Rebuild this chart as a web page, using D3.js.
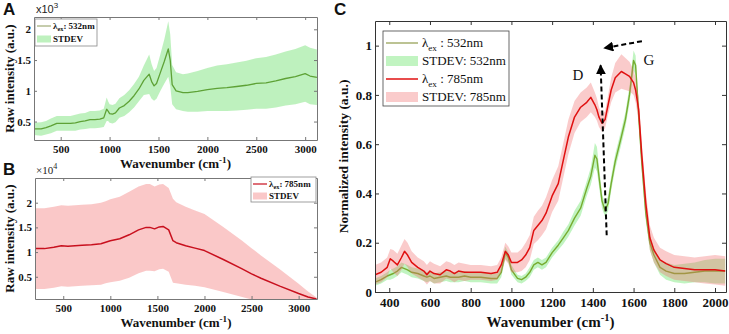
<!DOCTYPE html>
<html>
<head>
<meta charset="utf-8">
<script src="https://cdn.jsdelivr.net/npm/d3@7"></script>
<style>
body { margin: 0; background: #fff; }
text { font-family: "Liberation Serif", "Times New Roman", serif; }
</style>
</head>
<body>
<script>
const WIDTH = 729;
const HEIGHT = 334;

// panel A: 532 nm raw spectrum (x10^3)
var waveA = [227,300,350,400,460,500,550,600,650,700,750,800,850,900,940,970,985,1000,1030,1060,
  1100,1150,1200,1250,1300,1350,1405,1430,1455,1480,1520,1560,1600,1620,1640,1680,1750,1800,1900,2000,
  2100,2200,2300,2400,2500,2600,2700,2800,2900,3000,3050,3120];
var meanA = [0.38,0.38,0.40,0.43,0.47,0.47,0.47,0.47,0.48,0.50,0.51,0.53,0.53,0.54,0.56,0.70,0.67,0.63,0.62,0.64,
  0.72,0.76,0.83,0.92,1.03,1.17,1.27,1.15,1.08,1.12,1.30,1.48,1.68,1.50,1.10,1.00,0.97,0.97,0.99,1.02,
  1.04,1.05,1.07,1.09,1.12,1.13,1.16,1.20,1.23,1.28,1.24,1.22];
var sdA = [0.10,0.11,0.11,0.12,0.12,0.12,0.12,0.12,0.13,0.13,0.13,0.14,0.14,0.14,0.15,0.19,0.16,0.15,0.15,0.15,
  0.16,0.17,0.18,0.19,0.20,0.24,0.32,0.28,0.24,0.25,0.30,0.36,0.45,0.42,0.32,0.30,0.30,0.31,0.33,0.35,
  0.37,0.38,0.39,0.40,0.41,0.42,0.43,0.44,0.45,0.46,0.46,0.45];
var xTicksA = [500,1000,1500,2000,2500,3000];
var yTicksA = [0.5,1,1.5,2];

// panel B: 785 nm raw spectrum (x10^4)
var waveB = [200,300,400,480,550,700,800,900,950,1000,1100,1200,1300,1380,1420,1470,1520,1560,1620,1665,
  1700,1800,1900,2000,2200,2400,2500,2600,2800,3000,3100,3190];
var meanB = [1.07,1.07,1.10,1.13,1.12,1.14,1.15,1.17,1.20,1.23,1.27,1.35,1.45,1.50,1.50,1.47,1.51,1.52,1.45,1.23,
  1.19,1.13,1.08,1.03,0.85,0.66,0.56,0.47,0.31,0.16,0.09,0.05];
var sdB = [0.82,0.82,0.82,0.82,0.82,0.82,0.82,0.83,0.83,0.84,0.85,0.87,0.88,0.88,0.88,0.86,0.86,0.86,0.85,0.85,
  0.82,0.79,0.76,0.74,0.66,0.57,0.52,0.46,0.34,0.20,0.11,0.03];
var xTicksB = [500,1000,1500,2000,2500,3000];
var yTicksB = [0.5,1,1.5,2];

// panel C: normalized spectra
var waveC = [330,360,390,405,420,440,460,475,490,510,
  540,570,585,600,620,650,680,700,720,740,
  770,800,850,900,930,950,970,985,1000,1030,
  1050,1070,1090,1110,1130,1150,1170,1200,1230,1255,
  1280,1310,1340,1370,1390,1410,1420,1430,1445,1460,
  1475,1490,1510,1540,1560,1580,1600,1610,1625,1640,
  1660,1680,1700,1730,1760,1800,1850,1900,1950,2000,2050];
var norm532 = [0.04,0.05,0.065,0.07,0.075,0.085,0.10,0.095,0.09,0.08,
  0.075,0.065,0.06,0.065,0.055,0.06,0.065,0.06,0.06,0.06,
  0.065,0.06,0.06,0.055,0.055,0.08,0.16,0.14,0.09,0.055,
  0.05,0.06,0.08,0.11,0.12,0.11,0.12,0.16,0.19,0.22,
  0.25,0.30,0.34,0.42,0.47,0.555,0.54,0.47,0.37,0.33,
  0.36,0.44,0.53,0.63,0.70,0.80,0.94,0.92,0.72,0.53,
  0.32,0.20,0.15,0.10,0.085,0.075,0.075,0.08,0.085,0.085,0.085];
var sd532 = [0.015,0.015,0.015,0.02,0.02,0.02,0.02,0.02,0.02,0.02,
  0.02,0.02,0.02,0.02,0.02,0.02,0.02,0.02,0.02,0.02,
  0.02,0.02,0.02,0.02,0.02,0.02,0.025,0.02,0.02,0.015,
  0.015,0.015,0.02,0.02,0.02,0.02,0.02,0.02,0.02,0.025,
  0.025,0.03,0.03,0.03,0.035,0.05,0.05,0.04,0.03,0.025,
  0.03,0.03,0.03,0.03,0.03,0.035,0.04,0.04,0.04,0.035,
  0.03,0.03,0.03,0.03,0.035,0.035,0.04,0.04,0.045,0.05,0.05];
var norm785 = [0.07,0.08,0.10,0.135,0.125,0.11,0.14,0.165,0.15,0.12,
  0.10,0.085,0.07,0.085,0.075,0.07,0.09,0.085,0.075,0.085,
  0.08,0.08,0.08,0.075,0.08,0.11,0.165,0.15,0.12,0.12,
  0.13,0.15,0.18,0.25,0.27,0.29,0.32,0.39,0.44,0.535,
  0.63,0.71,0.75,0.77,0.79,0.76,0.74,0.71,0.685,0.70,
  0.76,0.82,0.87,0.895,0.885,0.875,0.85,0.82,0.74,0.56,
  0.36,0.22,0.17,0.13,0.115,0.10,0.095,0.09,0.09,0.09,0.085];
var sd785 = [0.04,0.04,0.04,0.04,0.045,0.045,0.05,0.05,0.05,0.045,
  0.04,0.04,0.04,0.04,0.04,0.035,0.035,0.035,0.035,0.035,
  0.035,0.03,0.03,0.03,0.03,0.03,0.035,0.035,0.04,0.04,
  0.045,0.05,0.05,0.055,0.06,0.06,0.065,0.065,0.07,0.07,
  0.07,0.065,0.06,0.06,0.06,0.05,0.045,0.04,0.035,0.035,
  0.04,0.05,0.06,0.07,0.065,0.06,0.05,0.05,0.05,0.05,
  0.05,0.05,0.05,0.05,0.05,0.05,0.05,0.05,0.055,0.06,0.06];
var xTicksC = [400,600,800,1000,1200,1400,1600,1800,2000];
var yTicksC = [0,0.2,0.4,0.6,0.8,1];

// annotations in data units of panel C
var peakLabels = [{t: 'D', x: 1327, y: 0.86}, {t: 'G', x: 1676, y: 0.92}];
var arrows = [{x1: 1468, y1: 0.23, x2: 1438, y2: 0.92}, {x1: 1641, y1: 1.018, x2: 1456, y2: 0.99}];

var svg = d3.select('body').append('svg')
    .attr('width', WIDTH)
    .attr('height', HEIGHT);

var defs = svg.append('defs');
defs.append('marker')
    .attr('id', 'head')
    .attr('viewBox', '0 0 10 10')
    .attr('refX', 9).attr('refY', 5)
    .attr('markerWidth', 5).attr('markerHeight', 5)
    .attr('markerUnits', 'strokeWidth')
    .attr('orient', 'auto')
  .append('path')
    .attr('d', 'M0,0 L10,5 L0,10 z')
    .attr('fill', '#000');

var makePanel = function (p) {
    var x = d3.scaleLinear().domain(p.xDomain).range([p.left, p.right]);
    var y = d3.scaleLinear().domain(p.yDomain).range([p.bottom, p.top]);
    var g = svg.append('g');

    defs.append('clipPath').attr('id', p.id)
      .append('rect')
        .attr('x', p.left).attr('y', p.top)
        .attr('width', p.right - p.left).attr('height', p.bottom - p.top);

    var plot = g.append('g').attr('clip-path', 'url(#' + p.id + ')');

    p.series.forEach(function (s) {
        var pts = s.wave.map(function (w, i) { return {w: w, m: s.mean[i], s: s.sd[i]}; });
        var area = d3.area()
            .x(function (d) { return x(d.w); })
            .y0(function (d) { return y(d.m - d.s); })
            .y1(function (d) { return y(d.m + d.s); });
        var line = d3.line()
            .x(function (d) { return x(d.w); })
            .y(function (d) { return y(d.m); });
        plot.append('path')
            .attr('d', area(pts))
            .attr('fill', s.band)
            .attr('fill-opacity', s.bandOpacity)
            .attr('stroke', 'none');
        plot.append('path')
            .attr('d', line(pts))
            .attr('fill', 'none')
            .attr('stroke', s.color)
            .attr('stroke-width', s.width)
            .attr('stroke-linejoin', 'round');
    });

    var axes = [
        {a: d3.axisBottom(x).tickValues(p.xTicks).tickFormat(function (d) { return d; }), t: 'translate(0,' + p.bottom + ')', pad: p.xpad},
        {a: d3.axisTop(x).tickValues(p.xTicks).tickFormat(''), t: 'translate(0,' + p.top + ')', pad: 3},
        {a: d3.axisLeft(y).tickValues(p.yTicks).tickFormat(function (d) { return d; }), t: 'translate(' + p.left + ',0)', pad: p.ypad},
        {a: d3.axisRight(y).tickValues(p.yTicks).tickFormat(''), t: 'translate(' + p.right + ',0)', pad: 3}
    ];
    axes.forEach(function (ax) {
        var sel = g.append('g')
            .attr('transform', ax.t)
            .call(ax.a.tickSizeInner(-p.tick).tickSizeOuter(0).tickPadding(ax.pad));
        sel.select('.domain').attr('stroke', p.axisColor);
        sel.selectAll('.tick line').attr('stroke', p.axisColor);
        sel.selectAll('text')
            .attr('fill', '#111')
            .style('font-family', '"Liberation Serif", serif')
            .style('font-weight', 'bold')
            .style('font-size', p.tickFont + 'px');
    });

    // x label
    var xl = g.append('text')
        .attr('x', (p.left + p.right) / 2)
        .attr('y', p.xLabelY)
        .attr('text-anchor', 'middle')
        .style('font-weight', 'bold')
        .style('font-size', p.labelFont + 'px')
        .attr('fill', '#111');
    xl.append('tspan').text('Wavenumber (cm');
    xl.append('tspan').text('-1').attr('dy', -p.labelFont * 0.4).style('font-size', (p.labelFont * 0.7) + 'px');
    xl.append('tspan').text(')').attr('dy', p.labelFont * 0.4);

    g.append('text')
        .attr('transform', 'translate(' + p.yLabelX + ',' + ((p.top + p.bottom) / 2) + ') rotate(-90)')
        .attr('text-anchor', 'middle')
        .style('font-weight', 'bold')
        .style('font-size', p.yLabelFont + 'px')
        .attr('fill', '#111')
        .text(p.yLabel);

    return {x: x, y: y, g: g};
};

var addLegend = function (g, lg) {
    g.append('rect')
        .attr('x', lg.x).attr('y', lg.y)
        .attr('width', lg.w).attr('height', lg.h)
        .attr('fill', '#fff')
        .attr('stroke', lg.stroke)
        .attr('stroke-width', 0.8);
    lg.items.forEach(function (it, i) {
        var cy = lg.y + lg.first + i * lg.step;
        if (it.kind === 'line') {
            g.append('line')
                .attr('x1', lg.x + lg.sx0).attr('x2', lg.x + lg.sx1)
                .attr('y1', cy).attr('y2', cy)
                .attr('stroke', it.color).attr('stroke-width', it.width);
        } else {
            g.append('rect')
                .attr('x', lg.x + lg.sx0).attr('y', cy - lg.patch / 2)
                .attr('width', lg.sx1 - lg.sx0).attr('height', lg.patch)
                .attr('fill', it.color).attr('fill-opacity', it.opacity);
        }
        var t = g.append('text')
            .attr('x', lg.x + lg.tx)
            .attr('y', cy + lg.font * 0.33)
            .style('font-size', lg.font + 'px')
            .style('font-weight', lg.weight)
            .attr('fill', '#111');
        if (it.sub) {
            t.append('tspan').text('\u03bb');
            t.append('tspan').text('ex').attr('dy', lg.font * 0.28).style('font-size', (lg.font * 0.7) + 'px');
            t.append('tspan').text(it.label).attr('dy', -lg.font * 0.28);
        } else {
            t.text(it.label);
        }
    });
};

// ---- panel A ----
var pA = makePanel({
    id: 'clipA', left: 34, right: 317, top: 17, bottom: 140,
    xDomain: [227, 3121], yDomain: [0.2, 2.2],
    xTicks: xTicksA, yTicks: yTicksA, tick: 3, xpad: 5, ypad: 3,
    axisColor: '#777', tickFont: 11, labelFont: 13, yLabelFont: 13,
    xLabelY: 168, yLabelX: 14, yLabel: 'Raw intensity (a.u.)',
    series: [{wave: waveA, mean: meanA, sd: sdA, band: '#7ee47e', bandOpacity: 0.5, color: '#5ea236', width: 1.3}]
});
addLegend(pA.g, {
    x: 35, y: 19, w: 62, h: 27, first: 7, step: 13, sx0: 2, sx1: 16, tx: 18, patch: 7,
    font: 9, weight: 'bold', stroke: '#888',
    items: [{kind: 'line', color: '#8c9a5a', width: 1, sub: true, label: ': 532nm'},
            {kind: 'patch', color: '#7ee47e', opacity: 0.5, label: 'STDEV'}]
});
svg.append('text').attr('x', 36).attr('y', 13)
    .style('font-family', '"Liberation Sans", Arial, sans-serif').style('font-size', '11px').attr('fill', '#222')
    .text('x10').append('tspan').text('3').attr('dy', -5).style('font-size', '8px');

// ---- panel B ----
var pB = makePanel({
    id: 'clipB', left: 35, right: 317, top: 178, bottom: 299,
    xDomain: [200, 3195], yDomain: [0.05, 2.5],
    xTicks: xTicksB, yTicks: yTicksB, tick: 3, xpad: 5, ypad: 3,
    axisColor: '#777', tickFont: 11, labelFont: 13, yLabelFont: 13,
    xLabelY: 327, yLabelX: 14, yLabel: 'Raw intensity (a.u.)',
    series: [{wave: waveB, mean: meanB, sd: sdB, band: '#f48686', bandOpacity: 0.45, color: '#c8101e', width: 1.5}]
});
addLegend(pB.g, {
    x: 251, y: 177, w: 65, h: 25, first: 7, step: 12, sx0: 2, sx1: 16, tx: 18, patch: 7,
    font: 9, weight: 'bold', stroke: '#888',
    items: [{kind: 'line', color: '#c8101e', width: 1.2, sub: true, label: ': 785nm'},
            {kind: 'patch', color: '#f48686', opacity: 0.45, label: 'STDEV'}]
});
svg.append('text').attr('x', 36).attr('y', 174)
    .style('font-size', '11px').attr('fill', '#222')
    .text('\u00d710').append('tspan').text('4').attr('dy', -5).style('font-size', '8px');

// ---- panel C ----
var pC = makePanel({
    id: 'clipC', left: 375, right: 726, top: 21, bottom: 292,
    xDomain: [330, 2054], yDomain: [0, 1.1],
    xTicks: xTicksC, yTicks: yTicksC, tick: 4, xpad: 6, ypad: 3,
    axisColor: '#333', tickFont: 13, labelFont: 15, yLabelFont: 13.5,
    xLabelY: 327, yLabelX: 348, yLabel: 'Normalized intensity (a.u.)',
    series: [
        {wave: waveC, mean: norm532, sd: sd532, band: '#4ee04e', bandOpacity: 0.35, color: '#77ac30', width: 1.4},
        {wave: waveC, mean: norm785, sd: sd785, band: '#f06a6a', bandOpacity: 0.35, color: '#e01010', width: 1.5}
    ]
});
addLegend(pC.g, {
    x: 383, y: 31, w: 126, h: 75, first: 12, step: 18, sx0: 3, sx1: 35, tx: 39, patch: 10,
    font: 13, weight: 'normal', stroke: '#444',
    items: [{kind: 'line', color: '#8f9a4a', width: 1.2, sub: true, label: ' : 532nm'},
            {kind: 'patch', color: '#4ee04e', opacity: 0.35, label: 'STDEV: 532nm'},
            {kind: 'line', color: '#e01010', width: 1.5, sub: true, label: ' : 785nm'},
            {kind: 'patch', color: '#f06a6a', opacity: 0.35, label: 'STDEV: 785nm'}]
});

pC.g.selectAll('.peak')
    .data(peakLabels)
  .enter().append('text')
    .attr('x', function (d) { return pC.x(d.x); })
    .attr('y', function (d) { return pC.y(d.y); })
    .attr('text-anchor', 'middle')
    .style('font-size', '15px')
    .attr('fill', '#111')
    .text(function (d) { return d.t; });

pC.g.selectAll('.arrow')
    .data(arrows)
  .enter().append('line')
    .attr('x1', function (d) { return pC.x(d.x1); })
    .attr('y1', function (d) { return pC.y(d.y1); })
    .attr('x2', function (d) { return pC.x(d.x2); })
    .attr('y2', function (d) { return pC.y(d.y2); })
    .attr('stroke', '#000')
    .attr('stroke-width', 2)
    .attr('stroke-dasharray', '5,3')
    .attr('marker-end', 'url(#head)');

// panel letters
svg.selectAll('.letter')
    .data([{t: 'A', x: 3, y: 15}, {t: 'B', x: 3, y: 175}, {t: 'C', x: 334, y: 15}])
  .enter().append('text')
    .attr('x', function (d) { return d.x; })
    .attr('y', function (d) { return d.y; })
    .style('font-family', '"Liberation Sans", Arial, sans-serif')
    .style('font-weight', 'bold')
    .style('font-size', '17px')
    .attr('fill', '#111')
    .text(function (d) { return d.t; });
</script>
</body>
</html>
